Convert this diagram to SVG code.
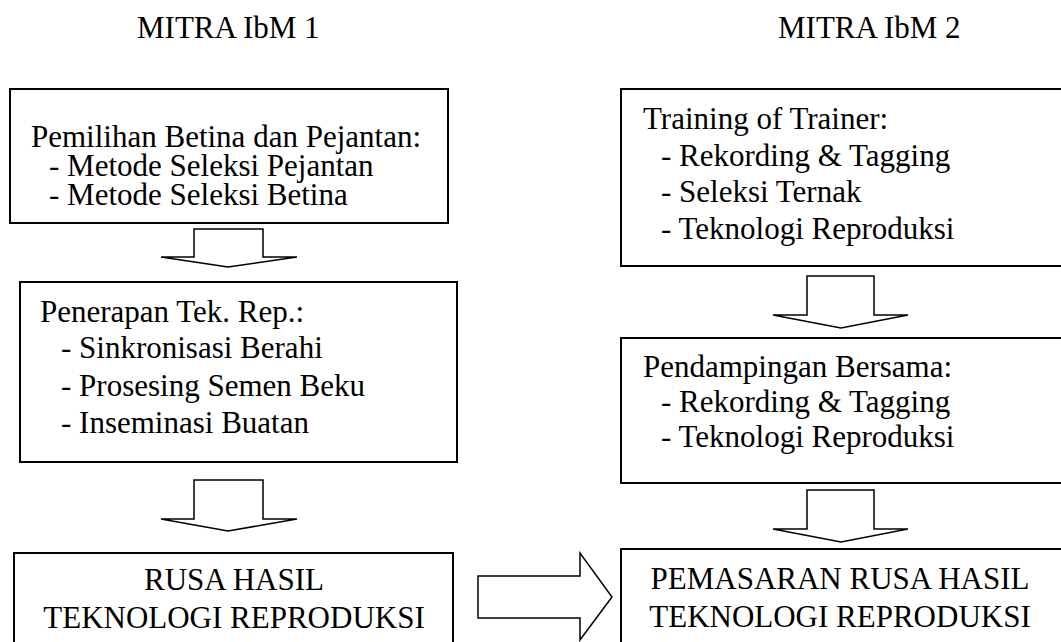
<svg xmlns="http://www.w3.org/2000/svg" width="1061" height="642" viewBox="0 0 1061 642">
<style>
.t{font-family:"Liberation Serif","Times New Roman",serif;font-size:31px;fill:#000}
.c{text-anchor:middle}
.box{fill:#fff;stroke:#000;stroke-width:2}
.arr{fill:#fff;stroke:#000;stroke-width:1.5;stroke-linejoin:miter}
</style>
<rect width="1061" height="642" fill="#fff"/>
<g id="title1"><text class="t" x="137" y="38">MITRA IbM 1</text></g>
<g id="title2"><text class="t" x="778" y="38">MITRA IbM 2</text></g>
<g id="n1">
<rect class="box" x="10" y="89" width="438" height="134"/>
<text class="t" x="31" y="147">Pemilihan Betina dan Pejantan:</text>
<text class="t" x="49" y="176">- Metode Seleksi Pejantan</text>
<text class="t" x="49" y="205">- Metode Seleksi Betina</text>
</g>
<g id="n2">
<rect class="box" x="20" y="282" width="437" height="180"/>
<text class="t" x="40" y="322">Penerapan Tek. Rep.:</text>
<text class="t" x="61" y="358">- Sinkronisasi Berahi</text>
<text class="t" x="61" y="396">- Prosesing Semen Beku</text>
<text class="t" x="61" y="433">- Inseminasi Buatan</text>
</g>
<g id="n3">
<rect class="box" x="14" y="553" width="439" height="100"/>
<text class="t c" x="234" y="590">RUSA HASIL</text>
<text class="t c" x="234" y="628">TEKNOLOGI REPRODUKSI</text>
</g>
<g id="n4">
<rect class="box" x="621" y="89" width="450" height="177"/>
<text class="t" x="643" y="129">Training of Trainer:</text>
<text class="t" x="661" y="166">- Rekording &amp; Tagging</text>
<text class="t" x="661" y="202">- Seleksi Ternak</text>
<text class="t" x="661" y="239">- Teknologi Reproduksi</text>
</g>
<g id="n5">
<rect class="box" x="621" y="338" width="450" height="145"/>
<text class="t" x="643" y="377">Pendampingan Bersama:</text>
<text class="t" x="661" y="412">- Rekording &amp; Tagging</text>
<text class="t" x="661" y="447">- Teknologi Reproduksi</text>
</g>
<g id="n6">
<rect class="box" x="621" y="549" width="450" height="104"/>
<text class="t c" x="840" y="589">PEMASARAN RUSA HASIL</text>
<text class="t c" x="840" y="627">TEKNOLOGI REPRODUKSI</text>
</g>
<g id="connectors">
<polygon class="arr" points="194,229 263,229 263,257 297,257 228,267 161,257 194,257"/>
<polygon class="arr" points="194,480 263,480 263,519 297,519 228,531 161,519 194,519"/>
<polygon class="arr" points="807,276 874,276 874,315 908,315 841,328 773,315 807,315"/>
<polygon class="arr" points="807,490 874,490 874,529 908,529 841,542 773,529 807,529"/>
<polygon class="arr" points="478,576 580,576 580,553 612,597 580,640 580,618 478,618"/>
</g>
</svg>
